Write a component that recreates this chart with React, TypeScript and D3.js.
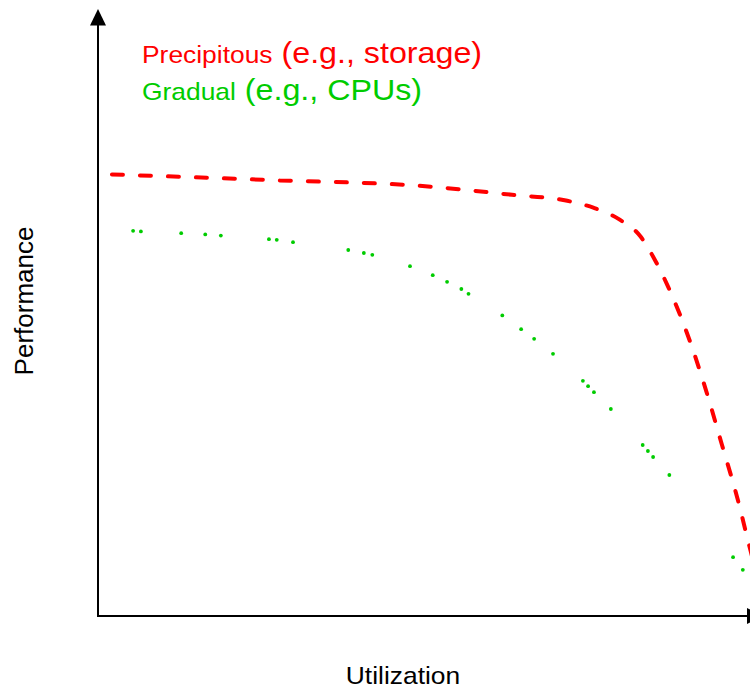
import React from "react";
import * as d3 from "d3";

// Utilization (0-100) vs Performance (0-100)
const precipitousU = [2.15, 28, 49.5, 63.7, 72.2, 76.2, 80.2, 83.5, 85.7, 87.7, 90.9, 93.6, 96, 98.4, 100.2, 101.1];
const precipitousP = [73.6, 72.6, 71.7, 70.2, 69.2, 68.05, 66.1, 63.2, 59.3, 54.9, 46.3, 37.4, 28.5, 19.5, 11.7, 8];

const gradualU = [5.4, 6.6, 12.8, 16.5, 18.9, 26.3, 27.5, 30, 38.5, 40.9, 42.2, 48, 51.5, 53.7, 55.9, 57, 62.2, 65.1, 67.1, 70.0, 74.6, 75.4, 76.3, 78.9, 83.8, 84.6, 85.4, 87.9, 97.7, 99.2];
const gradualP = [64.2, 64.1, 63.8, 63.6, 63.4, 62.8, 62.7, 62.3, 61, 60.5, 60.2, 58.3, 56.8, 55.7, 54.5, 53.7, 50.1, 47.8, 46.2, 43.7, 39.2, 38.3, 37.3, 34.5, 28.5, 27.5, 26.5, 23.5, 9.8, 7.7];

const legendRed = ["Precipitous", "(e.g., storage)"];
const legendGreen = ["Gradual", "(e.g., CPUs)"];
const xLabel = "Utilization";
const yLabel = "Performance";

const W = 750;
const H = 689;
const RED = "#ff0000";
const GREEN = "#00cc00";
const FONT = "'Liberation Sans', Arial, Helvetica, sans-serif";

export default function App() {
  const x = d3.scaleLinear().domain([0, 100]).range([98, 748]);
  const y = d3.scaleLinear().domain([0, 100]).range([616, 16]);
  const x0 = x(0);
  const y0 = y(0);

  const redPts: [number, number][] = precipitousU.map((u, i) => [x(u), y(precipitousP[i])]);
  const line = d3.line<[number, number]>().curve(d3.curveMonotoneX);
  const redPath = line(redPts) || "";

  return (
    <div style={{ position: "absolute", left: 0, top: 0 }}>
      <svg width={W} height={H} style={{ display: "block" }}>
        <rect width={W} height={H} fill="#fff" />
        {/* axes */}
        <line x1={x0} y1={y0} x2={x0} y2={24} stroke="#000" strokeWidth={2} />
        <path d={`M${x0},9 L${x0 - 8},25.5 L${x0 + 8},25.5 Z`} fill="#000" />
        <line x1={x0 - 1} y1={y0} x2={748} y2={y0} stroke="#000" strokeWidth={2} />
        <path d={`M763,${y0} L747,${y0 - 8} L747,${y0 + 8} Z`} fill="#000" />

        {/* series */}
        <path
          d={redPath}
          fill="none"
          stroke={RED}
          strokeWidth={4}
          strokeDasharray="11 17"
          strokeLinecap="round"
        />
        {gradualU.map((u, i) => (
          <circle key={i} cx={x(u)} cy={y(gradualP[i])} r={1.9} fill={GREEN} />
        ))}

        {/* legend */}
        <g transform="translate(142,0) scale(1.1,1)" fontFamily={FONT}>
          <text x={0} y={63} fill={RED} fontSize={24}>
            {legendRed[0]}
            <tspan fontSize={29.3}>{" " + legendRed[1]}</tspan>
          </text>
          <text x={0} y={100} fill={GREEN} fontSize={24}>
            {legendGreen[0]}
            <tspan fontSize={29.3}>{" " + legendGreen[1]}</tspan>
          </text>
        </g>

        {/* axis labels */}
        <g transform="translate(403,684) scale(1.1,1)" fontFamily={FONT}>
          <text x={0} y={0} textAnchor="middle" fontSize={24} fill="#000">
            {xLabel}
          </text>
        </g>
        <text
          transform="translate(32.5,301) rotate(-90)"
          textAnchor="middle"
          fontSize={26}
          fontFamily={FONT}
          fill="#000"
        >
          {yLabel}
        </text>
      </svg>
    </div>
  );
}
